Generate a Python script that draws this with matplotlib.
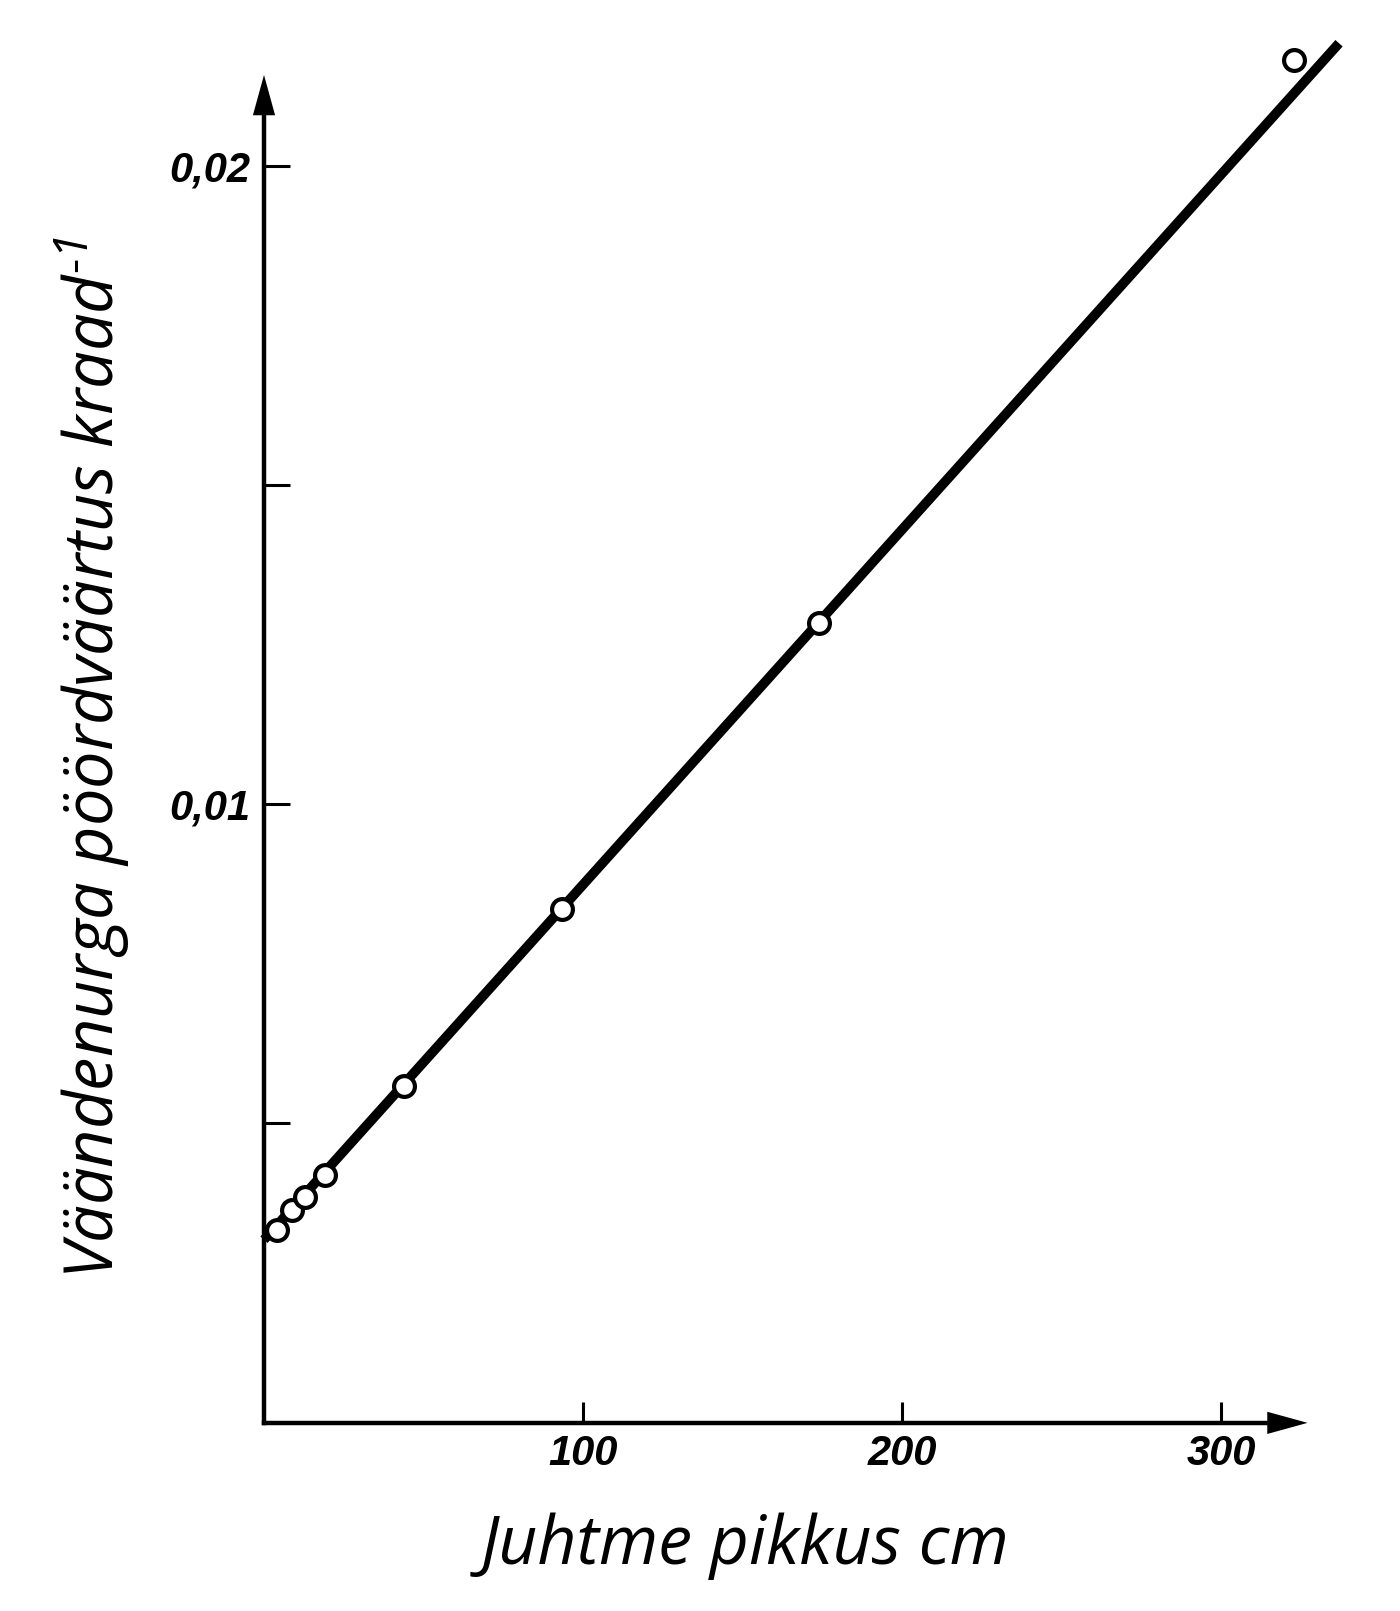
import matplotlib
matplotlib.use("Agg")
import matplotlib.pyplot as plt
from matplotlib.ticker import FixedLocator, FixedFormatter

# ---- data ----
length_cm = [4.1, 8.8, 12.9, 19.1, 43.9, 93.4, 174.0, 322.9]
inv_angle = [0.00332, 0.00364, 0.00384, 0.00418, 0.00558, 0.00835, 0.01284, 0.02166]
fit_intercept = 0.00317
fit_slope = 5.565e-5
fit_x = [0.0, 337.0]

x_ticks = [100, 200, 300]
x_ticklabels = ["100", "200", "300"]
y_ticks = [0.005, 0.01, 0.015, 0.02]
y_ticklabels = ["", "0,01", "", "0,02"]

x_label = "Juhtme pikkus cm"
y_label = "Väändenurga pöördväärtus kraad$^{\u2010 1}$"

# ---- styling ----
plt.rcParams["mathtext.fontset"] = "custom"
plt.rcParams["mathtext.rm"] = "Open Sans:italic"
plt.rcParams["mathtext.it"] = "Open Sans:italic"
plt.rcParams["mathtext.fallback"] = "stixsans"

W, H = 1400, 1611
fig = plt.figure(figsize=(W / 100, H / 100), dpi=100)

x0_px, y0_px_top = 264, 1442
px_per_cm = 3.19
px_per_unit = 63800.0
xmax, ymax = 340.0, 0.0225
ax_w = xmax * px_per_cm
ax_h = ymax * px_per_unit
ax = fig.add_axes([x0_px / W, (H - y0_px_top) / H, ax_w / W, ax_h / H])
ax.set_xlim(0, xmax)
ax.set_ylim(0, ymax)
ax.patch.set_alpha(0)

x_axis_y = 0.0003
y_top = 0.02147
x_right = 328.0

for s in ["top", "right"]:
    ax.spines[s].set_visible(False)
ax.spines["left"].set_position(("data", 0))
ax.spines["bottom"].set_position(("data", x_axis_y))
ax.spines["left"].set_bounds(x_axis_y, y_top - 0.0005)
ax.spines["bottom"].set_bounds(0, x_right - 5)
ax.spines["left"].set_linewidth(3.2)
ax.spines["bottom"].set_linewidth(3.2)

# arrow heads
ax.annotate("", xy=(0, y_top), xytext=(0, y_top - 0.001),
            arrowprops=dict(arrowstyle="-|>,head_length=1.45,head_width=0.4",
                            mutation_scale=20, lw=0, color="black"))
ax.annotate("", xy=(x_right, x_axis_y), xytext=(x_right - 10, x_axis_y),
            arrowprops=dict(arrowstyle="-|>,head_length=1.45,head_width=0.4",
                            mutation_scale=20, lw=0, color="black"))

ax.xaxis.set_major_locator(FixedLocator(x_ticks))
ax.xaxis.set_major_formatter(FixedFormatter(x_ticklabels))
ax.yaxis.set_major_locator(FixedLocator(y_ticks))
ax.yaxis.set_major_formatter(FixedFormatter(y_ticklabels))
ax.tick_params(axis="x", direction="in", length=15, width=2.2, pad=8)
ax.tick_params(axis="y", direction="in", length=19, width=2.2, pad=10)
for lbl in ax.get_xticklabels() + ax.get_yticklabels():
    lbl.set_fontfamily(["Liberation Sans", "DejaVu Sans"])
    lbl.set_fontstyle("italic")
    lbl.set_fontweight("bold")
    lbl.set_fontsize(30)

# fit line
fit_y = [fit_intercept + fit_slope * x for x in fit_x]
ax.plot(fit_x, fit_y, color="black", lw=7, solid_capstyle="butt", zorder=3, clip_on=False)

# data points
ax.plot(length_cm, inv_angle, "o", ms=15, mfc="white", mec="black", mew=3, zorder=4, clip_on=False)

# labels
fig.text(745 / W, 1 - 1546 / H, x_label, ha="center", va="center",
         family=["Open Sans", "DejaVu Sans"], style="italic", fontsize=49)
fig.text(92 / W, 1 - 757 / H, y_label, ha="center", va="center", rotation=90,
         family=["Open Sans", "DejaVu Sans"], style="italic", fontsize=48)

fig.savefig("out.png", dpi=100, facecolor="white")
